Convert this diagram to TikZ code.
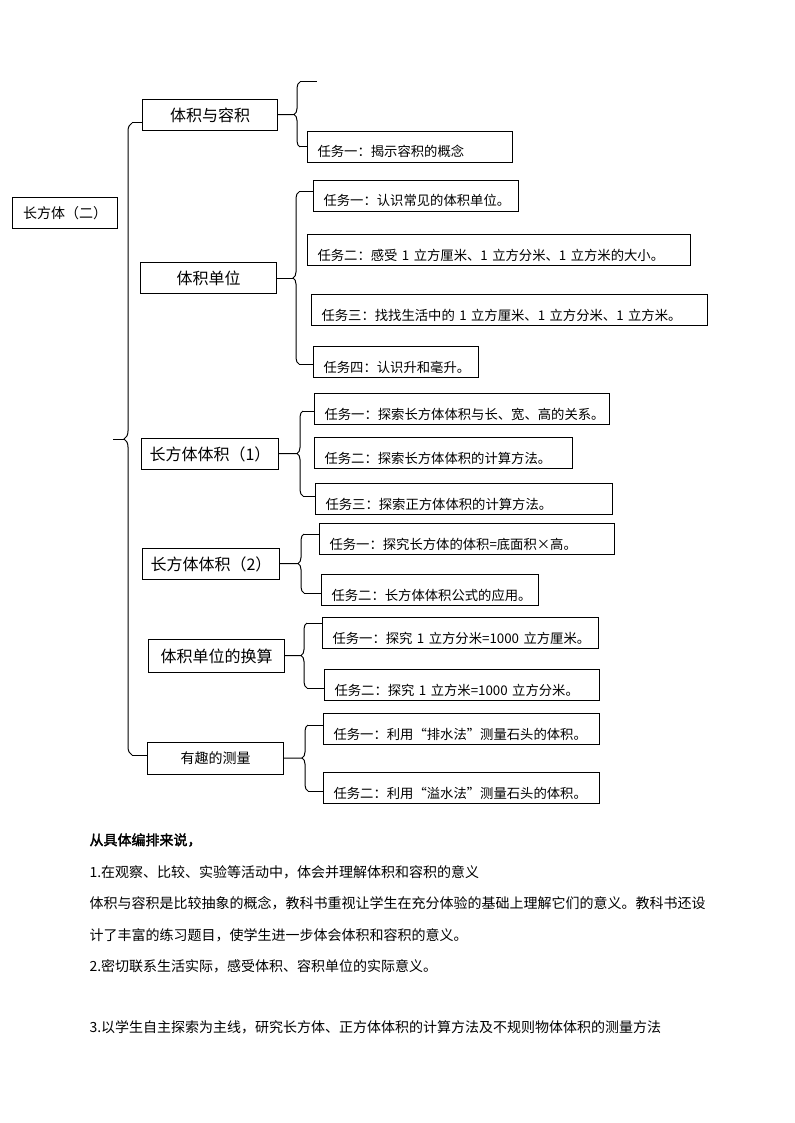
\documentclass[tikz,border=0pt]{standalone}
\usepackage{fontspec}
\setmainfont{Noto Sans CJK SC}
\newfontfamily\cjkbold[FakeBold=2]{Noto Sans CJK SC}
\usepackage{tikz}
\usetikzlibrary{decorations.pathreplacing}

\begin{document}
\begin{tikzpicture}[x=0.75pt, y=-0.75pt, line width=0.75pt,
        topic/.style={draw, anchor=north west, minimum height=23.25pt, inner sep=2pt, font=\fontsize{12}{14}\selectfont},
        task/.style={draw, anchor=north west, minimum height=23.25pt, inner xsep=7.5pt, inner ysep=2pt, align=left, text height=15pt, text depth=0pt, font=\fontsize{10}{12}\selectfont},
        curly/.style={decorate, decoration={brace, amplitude=4.5pt}},
        para/.style={anchor=west, inner sep=0pt, font=\fontsize{10.5}{12}\selectfont}]
        \fill[white] (0,0) rectangle (794,1123);

        \node[topic, minimum width=78.75pt, font=\fontsize{10.5}{12}\selectfont] (root) at (12,197) {长方体（二）};

        \node[topic, minimum width=101.25pt] (l1) at (142,99) {体积与容积};
        \node[topic, minimum width=102pt] (l2) at (140,262) {体积单位};
        \node[topic, minimum width=102.75pt] (l3) at (141,438) {长方体体积（1）};
        \node[topic, minimum width=102.75pt] (l4) at (142,548) {长方体体积（2）};
        \node[topic, minimum width=102pt, minimum height=24.75pt] (l5) at (148,639) {体积单位的换算};
        \node[topic, minimum width=102pt, minimum height=24pt, font=\fontsize{10.5}{12}\selectfont] (l6) at (147,742) {有趣的测量};

        \node[task, text width=138.75pt] (t11) at (307,131) {任务一：揭示容积的概念};
        \node[task, text width=138.75pt] (t21) at (313,180) {任务一：认识常见的体积单位。};
        \node[task, text width=272.25pt] (t22) at (307,234) {任务二：感受~1~立方厘米、1~立方分米、1~立方米的大小。};
        \node[task, text width=282pt] (t23) at (311,294) {任务三：找找生活中的~1~立方厘米、1~立方分米、1~立方米。};
        \node[task, text width=108.75pt] (t24) at (313,346) {任务四：认识升和毫升。};
        \node[task, text width=206.25pt] (t31) at (314,393) {任务一：探索长方体体积与长、宽、高的关系。};
        \node[task, text width=178.5pt] (t32) at (314,437) {任务二：探索长方体体积的计算方法。};
        \node[task, text width=207.75pt] (t33) at (315,483) {任务三：探索正方体体积的计算方法。};
        \node[task, text width=206.25pt] (t41) at (319,523) {任务一：探究长方体的体积=底面积×高。};
        \node[task, text width=147.75pt] (t42) at (321,574) {任务二：长方体体积公式的应用。};
        \node[task, text width=192pt] (t51) at (322,617) {任务一：探究~1~立方分米=1000~立方厘米。};
        \node[task, text width=191.25pt] (t52) at (324,669) {任务二：探究~1~立方米=1000~立方分米。};
        \node[task, text width=192pt] (t61) at (323,713) {任务一：利用“排水法”测量石头的体积。};
        \node[task, text width=192pt] (t62) at (323,772) {任务二：利用“溢水法”测量石头的体积。};

        \coordinate (mtip) at (124,439);
        \coordinate (stub) at (113,439);
        \coordinate (e1) at (317,82);
        \coordinate (k1) at (294,114.5);
        \coordinate (k2) at (293,278);
        \coordinate (k3) at (297,453.5);
        \coordinate (k4) at (298,563.5);
        \coordinate (k5) at (301,655.5);
        \coordinate (k6) at (302,758);

        \draw[curly, decoration={amplitude=6pt}] (132,755) -- (132,123);
        \draw (132,123) -- (l1.west |- 132,123);
        \draw (132,755) -- (l6.west |- 132,755);
        \draw (mtip) -- (stub);

        \draw[curly] (300,147) -- (300,82);
        \draw (300,82) -- (e1);
        \draw (300,147) -- (t11.west |- 300,147);
        \draw (l1) -- (k1);

        \draw[curly] (299,364) -- (299,192);
        \draw (299,192) -- (t21.west |- 299,192);
        \draw (299,364) -- (t24.west |- 299,364);
        \draw (l2) -- (k2);

        \draw[curly] (303,496) -- (303,411);
        \draw (303,411) -- (t31.west |- 303,411);
        \draw (303,496) -- (t33.west |- 303,496);
        \draw (l3) -- (k3);

        \draw[curly] (304,593) -- (304,534);
        \draw (304,534) -- (t41.west |- 304,534);
        \draw (304,593) -- (t42.west |- 304,593);
        \draw (l4) -- (k4);

        \draw[curly] (307,688) -- (307,623);
        \draw (307,623) -- (t51.west |- 307,623);
        \draw (307,688) -- (t52.west |- 307,688);
        \draw (l5) -- (k5);

        \draw[curly] (308,791) -- (308,725);
        \draw (308,725) -- (t61.west |- 308,725);
        \draw (308,791) -- (t62.west |- 308,791);
        \draw (l6) -- (k6);

        \node[para, font=\cjkbold\fontsize{10.5}{12}\selectfont] (p0) at (89,840) {从具体编排来说，};
        \node[para] (p1) at (89,872) {1.在观察、比较、实验等活动中，体会并理解体积和容积的意义};
        \node[para] (p2) at (89,903) {体积与容积是比较抽象的概念，教科书重视让学生在充分体验的基础上理解它们的意义。教科书还设};
        \node[para] (p3) at (89,935) {计了丰富的练习题目，使学生进一步体会体积和容积的意义。};
        \node[para] (p4) at (89,966) {2.密切联系生活实际，感受体积、容积单位的实际意义。};
        \node[para] (p5) at (89,1027) {3.以学生自主探索为主线，研究长方体、正方体体积的计算方法及不规则物体体积的测量方法};

    \end{tikzpicture}
\end{document}
